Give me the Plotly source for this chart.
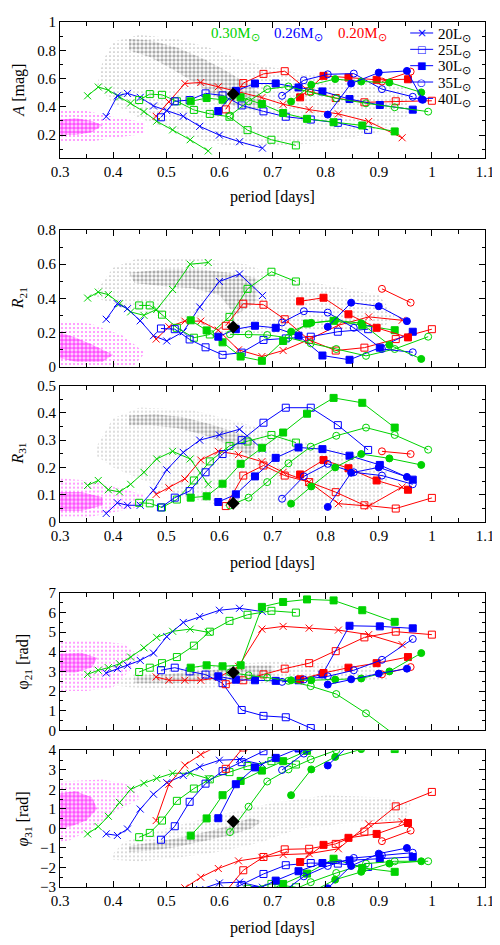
import math
import plotly.graph_objects as go

FONT = "Liberation Serif"
GREEN = "rgb(0,210,0)"
BLUE = "rgb(0,0,255)"
RED = "rgb(255,0,0)"
GRAY = "rgb(120,120,120)"
MAGENTA = "rgb(255,0,255)"

# Model periods [days], one list per (mass, luminosity) sequence
PERIOD = {
    "G20": [0.352, 0.372, 0.391, 0.412, 0.433, 0.458, 0.482, 0.512, 0.545, 0.579],
    "B20": [0.387, 0.408, 0.427, 0.451, 0.476, 0.501, 0.532, 0.563, 0.600, 0.638, 0.681],
    "R20": [0.481, 0.505, 0.535, 0.565, 0.598, 0.636, 0.680, 0.720, 0.769, 0.824, 0.881, 0.944],
    "G25": [0.449, 0.469, 0.492, 0.520, 0.552, 0.582, 0.619, 0.653, 0.698, 0.744],
    "B25": [0.490, 0.516, 0.544, 0.574, 0.606, 0.642, 0.683, 0.725, 0.772, 0.823, 0.880],
    "R25": [0.612, 0.645, 0.683, 0.723, 0.769, 0.819, 0.873, 0.932, 1.000],
    "G30": [0.546, 0.576, 0.606, 0.640, 0.680, 0.720, 0.765, 0.815, 0.869, 0.930],
    "B30": [0.598, 0.631, 0.667, 0.706, 0.749, 0.794, 0.845, 0.902, 0.964],
    "R30": [0.752, 0.796, 0.843, 0.896, 0.955],
    "G35": [0.620, 0.655, 0.690, 0.730, 0.772, 0.820, 0.876, 0.930, 0.993],
    "B35": [0.718, 0.759, 0.804, 0.853, 0.906, 0.964],
    "R35": [0.906, 0.960],
    "G40": [0.735, 0.773, 0.818, 0.867, 0.920, 0.980],
    "B40": [0.804, 0.848, 0.900, 0.953, 0.983],
}

# Amplitude A [mag]
AMP = {
    "G20": [0.478, 0.540, 0.518, 0.470, 0.427, 0.366, 0.298, 0.237, 0.167, 0.088],
    "B20": [0.331, 0.478, 0.495, 0.467, 0.406, 0.373, 0.333, 0.262, 0.200, 0.153, 0.108],
    "R20": [0.333, 0.435, 0.565, 0.572, 0.542, 0.505, 0.465, 0.418, 0.380, 0.350, 0.296, 0.181],
    "G25": [0.448, 0.490, 0.485, 0.439, 0.378, 0.350, 0.330, 0.235, 0.167, 0.127],
    "B25": [0.326, 0.439, 0.448, 0.495, 0.481, 0.410, 0.368, 0.330, 0.310, 0.287, 0.237],
    "R25": [0.382, 0.568, 0.633, 0.652, 0.510, 0.462, 0.432, 0.439, 0.443],
    "G30": [0.439, 0.462, 0.450, 0.467, 0.420, 0.356, 0.315, 0.291, 0.268, 0.226],
    "B30": [0.370, 0.513, 0.565, 0.565, 0.537, 0.509, 0.455, 0.413, 0.380],
    "R30": [0.467, 0.619, 0.607, 0.591, 0.595],
    "G35": [0.338, 0.439, 0.525, 0.544, 0.502, 0.460, 0.425, 0.397, 0.366],
    "B35": [0.478, 0.588, 0.630, 0.635, 0.525, 0.471],
    "R35": [0.579, 0.649],
    "G40": [0.437, 0.556, 0.596, 0.579, 0.572, 0.502],
    "B40": [0.345, 0.565, 0.642, 0.654, 0.450],
}

R21 = {
    "G20": [0.402, 0.437, 0.422, 0.369, 0.321, 0.301, 0.336, 0.452, 0.600, 0.610],
    "B20": [0.278, 0.369, 0.340, 0.269, 0.182, 0.151, 0.205, 0.350, 0.499, 0.543, 0.417],
    "R20": [0.162, 0.234, 0.267, 0.267, 0.214, 0.099, 0.060, 0.095, 0.160, 0.243, 0.292, 0.272],
    "G25": [0.359, 0.359, 0.305, 0.228, 0.170, 0.189, 0.292, 0.456, 0.556, 0.499],
    "B25": [0.224, 0.220, 0.160, 0.114, 0.070, 0.083, 0.157, 0.166, 0.176, 0.205, 0.220],
    "R25": [0.240, 0.369, 0.363, 0.278, 0.157, 0.095, 0.112, 0.162, 0.220],
    "G30": [0.272, 0.213, 0.143, 0.060, 0.035, 0.151, 0.253, 0.269, 0.243, 0.214],
    "B30": [0.176, 0.220, 0.240, 0.228, 0.182, 0.066, 0.041, 0.112, 0.205],
    "R30": [0.383, 0.404, 0.307, 0.228, 0.172],
    "G35": [0.190, 0.190, 0.186, 0.170, 0.137, 0.104, 0.064, 0.104, 0.176],
    "B35": [0.259, 0.325, 0.317, 0.228, 0.104, 0.085],
    "R35": [0.456, 0.375],
    "G40": [0.205, 0.257, 0.272, 0.255, 0.128, 0.046],
    "B40": [0.234, 0.375, 0.354, 0.267, None],
}

R31 = {
    "G20": [0.134, 0.152, 0.118, 0.110, 0.138, 0.182, 0.231, 0.259, 0.231, 0.138],
    "B20": [0.031, 0.070, 0.061, 0.061, 0.116, 0.191, 0.255, 0.300, 0.319, 0.340, 0.267],
    "R20": [0.101, 0.125, 0.158, 0.227, 0.259, 0.247, 0.221, 0.182, 0.146, 0.067, 0.058, 0.128],
    "G25": [0.070, 0.068, 0.053, 0.082, 0.152, 0.222, 0.279, 0.295, 0.319, 0.291],
    "B25": [0.053, 0.089, 0.113, 0.182, 0.249, 0.300, 0.364, 0.419, 0.419, 0.355, 0.264],
    "R25": [0.058, 0.170, 0.207, 0.170, 0.146, 0.109, 0.061, 0.049, 0.088],
    "G30": [0.089, 0.094, 0.140, 0.213, 0.272, 0.328, 0.397, 0.455, 0.437, 0.346],
    "B30": [0.073, 0.101, 0.167, 0.235, 0.273, 0.267, 0.243, 0.209, 0.155],
    "R30": [0.174, 0.227, 0.197, 0.152, 0.118],
    "G35": [0.060, 0.089, 0.146, 0.215, 0.276, 0.316, 0.346, 0.319, 0.265],
    "B35": [0.085, 0.167, 0.213, 0.182, 0.170, 0.138],
    "R35": [0.259, 0.249],
    "G40": [0.067, 0.130, 0.200, 0.249, 0.233, 0.209],
    "B40": [0.055, 0.180, 0.200, 0.165, None],
}

PHI21 = {
    "G20": [2.85, 3.06, 3.19, 3.39, 3.73, 4.20, 4.73, 5.04, 5.15, 4.99],
    "B20": [2.92, 3.14, 3.31, 3.56, 3.93, 4.77, 5.49, 5.79, 6.11, 6.21, 6.04],
    "R20": [2.72, 2.55, 2.55, 2.55, 2.69, 3.26, 5.15, 5.29, 5.20, 5.10, 4.87, 4.36],
    "G25": [2.97, 3.19, 3.42, 3.73, 4.31, 5.02, 5.57, 5.88, 6.08, 5.99],
    "B25": [3.06, 3.19, 3.00, 2.84, 2.40, 1.04, 0.74, 0.67, 0.12, -0.60, -1.30],
    "R25": [2.35, 2.55, 2.85, 3.14, 3.42, 4.03, 4.73, 5.02, 4.87],
    "G30": [3.19, 3.31, 3.26, 3.31, 6.28, 6.53, 6.66, 6.61, 6.11, 5.52],
    "B30": [2.75, 2.58, 2.55, 2.52, 2.55, 2.85, 5.32, 5.29, 5.19],
    "R30": [2.60, 2.92, 3.19, 3.42, 3.73],
    "G35": [2.95, 2.80, 2.69, 2.52, 2.25, 1.85, 0.87, -0.25, -1.50],
    "B35": [2.47, 2.59, 2.75, 3.06, 3.59, 4.65],
    "R35": [2.85, 3.22],
    "G40": [2.55, 2.55, 2.59, 2.64, 3.00, 3.93],
    "B40": [2.33, 2.60, 2.89, 3.14, None],
}

# phi31 unwrapped; drawn at phi and phi - 2pi
PHI31 = {
    "G20": [-0.28, 0.09, 0.62, 1.33, 2.00, 2.31, 2.56, 2.82, 2.82, 2.55],
    "B20": [-0.28, -0.36, -0.03, 0.99, 1.75, 2.34, 2.71, 3.15, 3.49, 3.53, 3.27],
    "R20": [0.40, 2.26, 3.24, 3.78, 4.23, 4.62, 4.80, 4.94, 4.99, 5.24, 6.51, 6.63],
    "G25": [-0.45, -0.23, 0.40, 1.41, 2.04, 2.51, 2.88, 3.19, 3.44, 3.27],
    "B25": [-0.58, 0.11, 1.36, 2.29, 2.93, 3.39, 3.95, 4.40, 4.51, 4.48, 4.31],
    "R25": [3.05, 4.14, 4.82, 5.21, 5.24, 5.49, 6.12, 7.41, 8.15],
    "G30": [-0.37, 0.51, 1.70, 2.43, 2.96, 3.44, 3.97, 4.73, 4.26, 4.06],
    "B30": [0.52, 2.26, 3.12, 3.61, 4.09, 4.51, 4.65, 4.73, 4.82],
    "R30": [4.56, 5.44, 5.80, 6.00, 6.56],
    "G35": [-0.19, 1.11, 2.40, 3.02, 3.53, 4.00, 4.48, 4.60, 4.60],
    "B35": [2.99, 3.83, 4.36, 4.77, 4.90, 5.04],
    "R35": [5.63, 6.17],
    "G40": [1.70, 3.02, 3.66, 4.06, 4.48, 4.60],
    "B40": [3.22, 4.36, 4.99, 5.28, None],
}

# Observed star (black diamond)
STAR_P = 0.626
STAR_VALS = [0.49, 0.233, 0.068, 2.95, 0.35]

# Outlines of the observed clouds (period list, value list) per panel
GRAY_HALO = [
    ([0.38, 0.40, 0.45, 0.52, 0.58, 0.65, 0.75, 0.85, 0.95, 0.96, 0.90, 0.80, 0.70, 0.62, 0.55, 0.50, 0.45, 0.40, 0.37],
     [0.72, 0.86, 0.91, 0.88, 0.82, 0.72, 0.64, 0.60, 0.55, 0.35, 0.22, 0.15, 0.12, 0.12, 0.18, 0.25, 0.32, 0.42, 0.55]),
    ([0.37, 0.40, 0.45, 0.55, 0.65, 0.72, 0.80, 0.90, 0.93, 0.90, 0.80, 0.70, 0.62, 0.55, 0.48, 0.42, 0.37],
     [0.45, 0.58, 0.64, 0.64, 0.60, 0.52, 0.48, 0.42, 0.30, 0.20, 0.22, 0.20, 0.18, 0.25, 0.30, 0.35, 0.40]),
    ([0.37, 0.40, 0.45, 0.55, 0.65, 0.75, 0.85, 0.92, 0.90, 0.80, 0.70, 0.60, 0.52, 0.46, 0.40, 0.37],
     [0.28, 0.38, 0.42, 0.41, 0.36, 0.30, 0.25, 0.18, 0.06, 0.04, 0.04, 0.06, 0.10, 0.15, 0.20, 0.24]),
    ([0.40, 0.45, 0.50, 0.60, 0.70, 0.80, 0.90, 0.92, 0.85, 0.75, 0.68, 0.60, 0.50, 0.43, 0.40],
     [2.45, 2.95, 3.10, 3.35, 3.50, 3.40, 3.30, 2.60, 2.55, 2.50, 2.40, 2.20, 2.10, 2.20, 2.30]),
    ([0.40, 0.42, 0.50, 0.60, 0.70, 0.80, 0.90, 0.96, 0.95, 0.85, 0.75, 0.68, 0.60, 0.52, 0.45, 0.40],
     [-1.30, -0.70, 0.00, 0.70, 1.30, 1.70, 1.60, 1.30, 0.40, 0.30, 0.00, -0.70, -1.20, -1.50, -1.70, -1.60]),
]
GRAY_CORE = [
    ([0.43, 0.47, 0.52, 0.57, 0.61, 0.65, 0.68, 0.67, 0.63, 0.59, 0.55, 0.51, 0.47, 0.43],
     [0.88, 0.87, 0.82, 0.74, 0.66, 0.57, 0.48, 0.37, 0.40, 0.48, 0.58, 0.67, 0.75, 0.80]),
    ([0.43, 0.50, 0.56, 0.62, 0.67, 0.67, 0.63, 0.60, 0.55, 0.50, 0.44],
     [0.55, 0.57, 0.57, 0.55, 0.52, 0.38, 0.30, 0.42, 0.46, 0.47, 0.49]),
    ([0.43, 0.48, 0.53, 0.58, 0.63, 0.67, 0.66, 0.62, 0.57, 0.52, 0.47, 0.43],
     [0.39, 0.395, 0.385, 0.36, 0.33, 0.30, 0.24, 0.28, 0.32, 0.345, 0.355, 0.355]),
    ([0.44, 0.50, 0.55, 0.60, 0.66, 0.70, 0.70, 0.66, 0.60, 0.55, 0.50, 0.44],
     [2.75, 2.85, 2.98, 3.10, 3.30, 3.30, 2.80, 2.65, 2.55, 2.45, 2.40, 2.40]),
    ([0.43, 0.48, 0.53, 0.58, 0.62, 0.66, 0.68, 0.66, 0.62, 0.57, 0.52, 0.47, 0.43],
     [-0.90, -0.70, -0.45, -0.15, 0.15, 0.55, 0.35, 0.00, -0.35, -0.65, -0.95, -1.15, -1.20]),
]
MAG_HALO = [
    ([0.30, 0.30, 0.35, 0.40, 0.46, 0.46, 0.40, 0.35], [0.15, 0.37, 0.37, 0.33, 0.29, 0.21, 0.18, 0.15]),
    ([0.30, 0.30, 0.36, 0.42, 0.46, 0.44, 0.36], [0.00, 0.27, 0.25, 0.18, 0.08, 0.01, 0.00]),
    ([0.30, 0.30, 0.36, 0.42, 0.46, 0.44, 0.36], [0.02, 0.16, 0.15, 0.12, 0.10, 0.05, 0.02]),
    ([0.30, 0.30, 0.36, 0.42, 0.45, 0.43, 0.40, 0.35], [2.00, 4.50, 4.60, 4.40, 3.80, 3.00, 2.20, 2.00]),
    ([0.30, 0.30, 0.38, 0.44, 0.45, 0.40, 0.36, 0.32], [-0.70, 2.40, 2.50, 2.20, 1.50, 0.80, 0.00, -0.60]),
]
MAG_CORE = [
    ([0.30, 0.30, 0.33, 0.36, 0.38, 0.36, 0.33], [0.20, 0.31, 0.32, 0.30, 0.27, 0.22, 0.20]),
    ([0.30, 0.30, 0.33, 0.36, 0.40, 0.38, 0.33], [0.05, 0.20, 0.17, 0.13, 0.07, 0.03, 0.03]),
    ([0.30, 0.30, 0.34, 0.38, 0.38, 0.34], [0.04, 0.11, 0.11, 0.09, 0.06, 0.04]),
    ([0.30, 0.30, 0.34, 0.37, 0.36, 0.33], [2.95, 3.90, 3.95, 3.70, 3.20, 2.95]),
    ([0.30, 0.30, 0.33, 0.36, 0.37, 0.35, 0.32], [0.00, 1.80, 1.90, 1.60, 1.00, 0.40, 0.10]),
]

MASS_LABELS = ["0.30M<sub>⊙</sub>", "0.26M<sub>⊙</sub>", "0.20M<sub>⊙</sub>"]
LUM_LABELS = ["20L<sub>⊙</sub>", "25L<sub>⊙</sub>", "30L<sub>⊙</sub>", "35L<sub>⊙</sub>", "40L<sub>⊙</sub>"]
LUM_GLYPHS = ["×", "□", "■", "○", "●"]

COLORS = {"G": GREEN, "B": BLUE, "R": RED}
SYMBOLS = {"20": "x-thin", "25": "square-open", "30": "square",
           "35": "circle-open", "40": "circle"}

PANELS = [AMP, R21, R31, PHI21, PHI31]
Y_RANGES = [[0.04, 1], [0, 0.8], [0, 0.5], [0, 7], [-3, 4]]
Y_DTICK = [0.2, 0.2, 0.1, 1, 1]
Y_MINOR = [0.1, 0.1, 0.05, 0.5, 0.5]
Y_TITLES = ["<i>A</i> [mag]", "<i>R</i><sub>21</sub>", "<i>R</i><sub>31</sub>",
            "φ<sub>21</sub> [rad]", "<i>φ</i><sub>31</sub> [rad]"]
Y_TITLE_X = [-0.097, -0.097, -0.097, -0.085, -0.085]
DOMAINS = [[0.8431, 1.0], [0.6014, 0.7595], [0.4221, 0.5796], [0.1810, 0.3402], [0.0, 0.1581]]
SHOW_X = [True, False, True, False, True]

fig = go.Figure()


def cloud(i, poly, color, size, solidity):
    fig.add_trace(go.Scatter(
        x=poly[0], y=poly[1], mode="lines", line=dict(width=0),
        fill="toself", fillcolor="rgba(0,0,0,0)",
        fillpattern=dict(shape=".", fgcolor=color, bgcolor="rgba(0,0,0,0)",
                         size=size, solidity=solidity),
        hoverinfo="skip", showlegend=False,
        xaxis="x" if i == 0 else "x%d" % (i + 1),
        yaxis="y" if i == 0 else "y%d" % (i + 1)))


for i, vals in enumerate(PANELS):
    xa = "x" if i == 0 else "x%d" % (i + 1)
    ya = "y" if i == 0 else "y%d" % (i + 1)

    cloud(i, GRAY_HALO[i], GRAY, 4, 0.15)
    cloud(i, GRAY_CORE[i], GRAY, 4, 0.55)
    cloud(i, MAG_HALO[i], MAGENTA, 4, 0.2)
    cloud(i, MAG_CORE[i], MAGENTA, 4, 0.8)

    shifts = [0.0, -2 * math.pi] if i == 4 else [0.0]
    for key, per in PERIOD.items():
        color = COLORS[key[0]]
        for s in shifts:
            y = [None if v is None else v + s for v in vals[key]]
            fig.add_trace(go.Scatter(
                x=per, y=y, mode="lines+markers",
                line=dict(color=color, width=1),
                marker=dict(symbol=SYMBOLS[key[1:]], size=7, color=color,
                            line=dict(color=color, width=1)),
                showlegend=False, xaxis=xa, yaxis=ya))

    fig.add_trace(go.Scatter(
        x=[STAR_P], y=[STAR_VALS[i]], mode="markers",
        marker=dict(symbol="diamond", size=10, color="black"),
        showlegend=False, xaxis=xa, yaxis=ya))

axis_common = dict(showline=True, linecolor="black", linewidth=1, mirror="allticks",
                   ticks="inside", ticklen=6, tickcolor="black", showgrid=False,
                   zeroline=False, tickfont=dict(family=FONT, size=15, color="black"))

# page body adds an 8px margin; figure is shrunk by that so the plot sits where intended
layout = dict(width=492, height=937, plot_bgcolor="white", paper_bgcolor="white",
              margin=dict(l=52, r=15, t=6, b=58), showlegend=False,
              font=dict(family=FONT, size=15, color="black"))

annotations = []
shapes = []
for i in range(5):
    xk = "xaxis" if i == 0 else "xaxis%d" % (i + 1)
    yk = "yaxis" if i == 0 else "yaxis%d" % (i + 1)
    anchor_x = "x" if i == 0 else "x%d" % (i + 1)
    anchor_y = "y" if i == 0 else "y%d" % (i + 1)
    layout[xk] = dict(axis_common, range=[0.3, 1.1], domain=[0, 1], anchor=anchor_y,
                      tick0=0.3, dtick=0.1, showticklabels=SHOW_X[i],
                      minor=dict(ticks="inside", ticklen=4, dtick=0.05, tick0=0.3,
                                 tickcolor="black"))
    layout[yk] = dict(axis_common, range=Y_RANGES[i], domain=DOMAINS[i], anchor=anchor_x,
                      tick0=0, dtick=Y_DTICK[i],
                      minor=dict(ticks="inside", ticklen=3, dtick=Y_MINOR[i], tick0=0,
                                 tickcolor="black"))
    mid = (DOMAINS[i][0] + DOMAINS[i][1]) / 2
    annotations.append(dict(text=Y_TITLES[i], xref="paper", yref="paper",
                            x=Y_TITLE_X[i], y=mid, textangle=-90,
                            showarrow=False, xanchor="center", yanchor="middle",
                            font=dict(family=FONT, size=16)))

for y in [0.798, 0.3746, -0.047]:
    annotations.append(dict(text="period [days]", xref="paper", yref="paper",
                            x=0.5, y=y, showarrow=False, xanchor="center",
                            yanchor="middle", font=dict(family=FONT, size=16)))

for lab, col, x in zip(MASS_LABELS, [GREEN, BLUE, RED], [0.412, 0.56, 0.711]):
    annotations.append(dict(text=lab, xref="paper", yref="paper", x=x, y=0.986,
                            showarrow=False, xanchor="center", yanchor="middle",
                            font=dict(family=FONT, size=15, color=col)))

# key for the luminosity symbols (blue), drawn as a small layout legend
for k, (lab, glyph) in enumerate(zip(LUM_LABELS, LUM_GLYPHS)):
    yk = 0.9873 - k * 0.0189
    shapes.append(dict(type="line", xref="paper", yref="paper", x0=0.824, x1=0.878,
                       y0=yk, y1=yk, line=dict(color=BLUE, width=1)))
    annotations.append(dict(text=glyph, xref="paper", yref="paper", x=0.851, y=yk,
                            showarrow=False, xanchor="center", yanchor="middle",
                            font=dict(family="DejaVu Sans", size=10 if k else 12, color=BLUE)))
    annotations.append(dict(text=lab, xref="paper", yref="paper", x=0.885, y=yk - 0.002,
                            showarrow=False, xanchor="left", yanchor="middle",
                            font=dict(family=FONT, size=15, color="black")))

layout["annotations"] = annotations
layout["shapes"] = shapes
fig.update_layout(**layout)

fig.write_html("out.html")
